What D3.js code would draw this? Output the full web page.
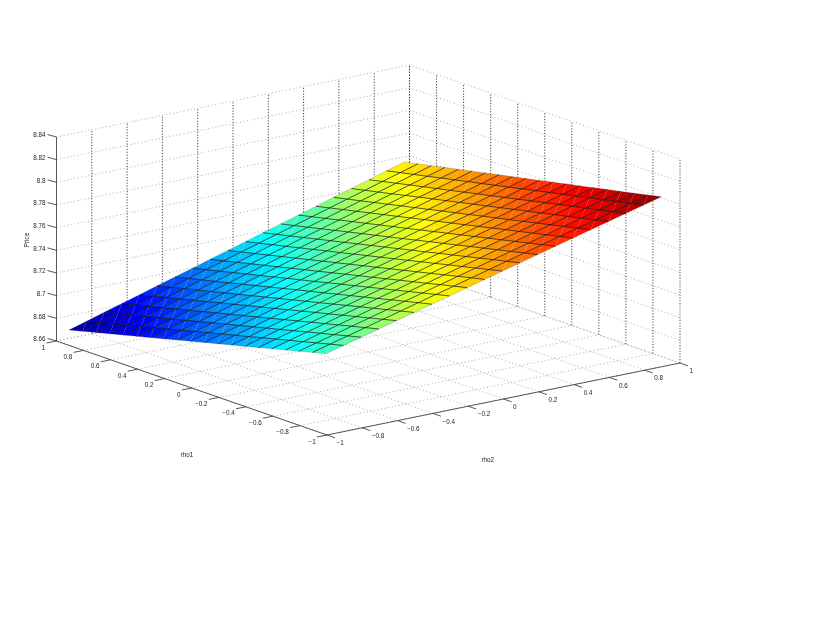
<!DOCTYPE html>
<html>
<head>
<meta charset="utf-8">
<script src="https://cdn.jsdelivr.net/npm/d3@7"></script>
<style>
    html, body { margin: 0; padding: 0; background: #fff; }
    svg { display: block; filter: blur(0.45px); }
    text { font-family: "Liberation Sans", Arial, sans-serif; font-size: 6.3px; fill: #222; }
</style>
</head>
<body>
<svg id="chart" width="830" height="623"></svg>
<script>
// values
const rho1Values = [-0.94, -0.84, -0.74, -0.64, -0.54, -0.44, -0.34, -0.24, -0.14, -0.04, 0.06, 0.16, 0.26, 0.36, 0.46, 0.56, 0.66, 0.76, 0.86, 0.96];
const rho2Values = [-0.96, -0.86, -0.76, -0.66, -0.56, -0.46, -0.36, -0.26, -0.16, -0.06, 0.04, 0.14, 0.24, 0.34, 0.44, 0.54, 0.64, 0.74, 0.84, 0.94];

// one row per rho1, one column per rho2
const price = [
    [8.7280, 8.7321, 8.7362, 8.7403, 8.7444, 8.7485, 8.7526, 8.7567, 8.7608, 8.7649, 8.7691, 8.7732, 8.7773, 8.7814, 8.7855, 8.7896, 8.7937, 8.7978, 8.8019, 8.8060],
    [8.7250, 8.7291, 8.7332, 8.7373, 8.7415, 8.7456, 8.7498, 8.7539, 8.7580, 8.7622, 8.7663, 8.7704, 8.7746, 8.7787, 8.7828, 8.7870, 8.7911, 8.7952, 8.7993, 8.8035],
    [8.7219, 8.7261, 8.7302, 8.7344, 8.7385, 8.7427, 8.7469, 8.7510, 8.7552, 8.7593, 8.7635, 8.7677, 8.7718, 8.7760, 8.7801, 8.7843, 8.7884, 8.7926, 8.7968, 8.8009],
    [8.7188, 8.7230, 8.7272, 8.7314, 8.7356, 8.7398, 8.7440, 8.7482, 8.7523, 8.7565, 8.7607, 8.7649, 8.7691, 8.7733, 8.7775, 8.7817, 8.7858, 8.7900, 8.7942, 8.7984],
    [8.7158, 8.7200, 8.7242, 8.7284, 8.7327, 8.7369, 8.7411, 8.7453, 8.7495, 8.7537, 8.7580, 8.7622, 8.7664, 8.7706, 8.7748, 8.7790, 8.7833, 8.7875, 8.7917, 8.7959],
    [8.7127, 8.7170, 8.7212, 8.7255, 8.7297, 8.7340, 8.7382, 8.7424, 8.7467, 8.7509, 8.7552, 8.7594, 8.7637, 8.7679, 8.7722, 8.7764, 8.7806, 8.7849, 8.7891, 8.7934],
    [8.7097, 8.7140, 8.7182, 8.7225, 8.7268, 8.7310, 8.7353, 8.7396, 8.7438, 8.7481, 8.7524, 8.7567, 8.7609, 8.7652, 8.7695, 8.7737, 8.7780, 8.7823, 8.7866, 8.7908],
    [8.7066, 8.7109, 8.7152, 8.7195, 8.7238, 8.7281, 8.7324, 8.7367, 8.7410, 8.7453, 8.7496, 8.7539, 8.7582, 8.7625, 8.7668, 8.7711, 8.7754, 8.7797, 8.7840, 8.7883],
    [8.7036, 8.7079, 8.7122, 8.7166, 8.7209, 8.7252, 8.7295, 8.7339, 8.7382, 8.7425, 8.7468, 8.7512, 8.7555, 8.7598, 8.7641, 8.7685, 8.7728, 8.7771, 8.7815, 8.7858],
    [8.7005, 8.7049, 8.7092, 8.7136, 8.7179, 8.7223, 8.7267, 8.7310, 8.7354, 8.7397, 8.7441, 8.7484, 8.7528, 8.7571, 8.7615, 8.7658, 8.7702, 8.7745, 8.7789, 8.7832],
    [8.6975, 8.7019, 8.7062, 8.7106, 8.7150, 8.7194, 8.7238, 8.7281, 8.7325, 8.7369, 8.7413, 8.7457, 8.7500, 8.7544, 8.7588, 8.7632, 8.7676, 8.7719, 8.7763, 8.7807],
    [8.6944, 8.6988, 8.7032, 8.7076, 8.7121, 8.7165, 8.7209, 8.7253, 8.7297, 8.7341, 8.7385, 8.7429, 8.7473, 8.7517, 8.7562, 8.7606, 8.7650, 8.7694, 8.7738, 8.7782],
    [8.6914, 8.6958, 8.7002, 8.7047, 8.7091, 8.7135, 8.7180, 8.7224, 8.7269, 8.7313, 8.7357, 8.7402, 8.7446, 8.7491, 8.7535, 8.7579, 8.7624, 8.7668, 8.7712, 8.7757],
    [8.6883, 8.6928, 8.6972, 8.7017, 8.7062, 8.7106, 8.7151, 8.7196, 8.7240, 8.7285, 8.7330, 8.7374, 8.7419, 8.7464, 8.7508, 8.7553, 8.7598, 8.7642, 8.7687, 8.7732],
    [8.6853, 8.6898, 8.6942, 8.6987, 8.7032, 8.7077, 8.7122, 8.7167, 8.7212, 8.7257, 8.7302, 8.7347, 8.7392, 8.7437, 8.7482, 8.7527, 8.7572, 8.7616, 8.7661, 8.7706],
    [8.6822, 8.6867, 8.6912, 8.6958, 8.7003, 8.7048, 8.7093, 8.7139, 8.7184, 8.7229, 8.7274, 8.7319, 8.7365, 8.7410, 8.7455, 8.7500, 8.7546, 8.7591, 8.7636, 8.7681],
    [8.6792, 8.6837, 8.6882, 8.6928, 8.6973, 8.7019, 8.7064, 8.7110, 8.7155, 8.7201, 8.7246, 8.7292, 8.7337, 8.7383, 8.7428, 8.7474, 8.7519, 8.7565, 8.7610, 8.7656],
    [8.6761, 8.6807, 8.6853, 8.6898, 8.6944, 8.6990, 8.7036, 8.7081, 8.7127, 8.7173, 8.7219, 8.7264, 8.7310, 8.7356, 8.7402, 8.7447, 8.7493, 8.7539, 8.7585, 8.7630],
    [8.6731, 8.6777, 8.6823, 8.6869, 8.6915, 8.6961, 8.7007, 8.7053, 8.7099, 8.7145, 8.7191, 8.7237, 8.7283, 8.7329, 8.7375, 8.7421, 8.7467, 8.7513, 8.7559, 8.7605],
    [8.6700, 8.6746, 8.6793, 8.6839, 8.6885, 8.6932, 8.6978, 8.7024, 8.7071, 8.7117, 8.7163, 8.7210, 8.7256, 8.7302, 8.7348, 8.7395, 8.7441, 8.7487, 8.7534, 8.7580]
];

const rhoTicks = [-1, -0.8, -0.6, -0.4, -0.2, 0, 0.2, 0.4, 0.6, 0.8, 1];
const priceTicks = [8.66, 8.68, 8.7, 8.72, 8.74, 8.76, 8.78, 8.8, 8.82, 8.84];

// the box is an oblique view: each data axis adds its own shift on screen
const front = { x: 327, y: 435 };
const rho1X = d3.scaleLinear().domain([-1, 1]).range([0, -270.5]);
const rho1Y = d3.scaleLinear().domain([-1, 1]).range([0, -94]);
const rho2X = d3.scaleLinear().domain([-1, 1]).range([0, 353]);
const rho2Y = d3.scaleLinear().domain([-1, 1]).range([0, -72]);
const priceY = d3.scaleLinear().domain([8.66, 8.84]).range([0, 204]);

const px = (r1, r2) => front.x + rho1X(r1) + rho2X(r2);
const py = (r1, r2, p) => front.y + rho1Y(r1) + rho2Y(r2) - priceY(p);

const allPrices = price.flat();
const t = d3.scaleLinear().domain(d3.extent(allPrices)).range([0, 1]);
const jet = d3.scaleLinear()
    .domain([0, 0.125, 0.375, 0.625, 0.875, 1])
    .range(["#00008f", "#0000ff", "#00ffff", "#ffff00", "#ff0000", "#800000"]);

const svg = d3.select("#chart");
const line3d = d3.line();

const floor = 8.66, top_ = 8.84;

// gridlines, the flat ones are paler than the uprights
const flatSegs = [];
const upSegs = [];
rhoTicks.forEach(v => {
    flatSegs.push([[px(v, -1), py(v, -1, floor)], [px(v, 1), py(v, 1, floor)]]);
    flatSegs.push([[px(-1, v), py(-1, v, floor)], [px(1, v), py(1, v, floor)]]);
    if (v > -1) upSegs.push([[px(1, v), py(1, v, floor)], [px(1, v), py(1, v, top_)]]);
    upSegs.push([[px(v, 1), py(v, 1, floor)], [px(v, 1), py(v, 1, top_)]]);
});
priceTicks.forEach(p => {
    flatSegs.push([[px(1, -1), py(1, -1, p)], [px(1, 1), py(1, 1, p)]]);
    flatSegs.push([[px(1, 1), py(1, 1, p)], [px(-1, 1), py(-1, 1, p)]]);
});
svg.append("g")
    .attr("fill", "none")
    .attr("stroke", "#a2a2a2")
    .attr("stroke-width", 0.9)
    .attr("stroke-dasharray", "1 2.6")
    .selectAll("path").data(flatSegs).enter().append("path").attr("d", line3d);
svg.append("g")
    .attr("fill", "none")
    .attr("stroke", "#333")
    .attr("stroke-width", 0.9)
    .attr("stroke-dasharray", "1.2 1.6")
    .selectAll("path").data(upSegs).enter().append("path").attr("d", line3d);

// surface: two triangles per cell, flat colour per cell
const surface = svg.append("g");
const vertex = (i, j) => [px(rho1Values[i], rho2Values[j]), py(rho1Values[i], rho2Values[j], price[i][j])];
const triangles = [];
d3.range(rho1Values.length - 1).forEach(i => {
    d3.range(rho2Values.length - 1).forEach(j => {
        const mean = d3.mean([price[i][j], price[i + 1][j], price[i][j + 1], price[i + 1][j + 1]]);
        triangles.push({ pts: [vertex(i, j), vertex(i, j + 1), vertex(i + 1, j + 1)], mean });
        triangles.push({ pts: [vertex(i, j), vertex(i + 1, j + 1), vertex(i + 1, j)], mean });
    });
});
surface.selectAll("path.tri").data(triangles).enter().append("path")
    .attr("class", "tri")
    .attr("d", d => line3d(d.pts) + "Z")
    .attr("fill", d => jet(t(d.mean)));

// the rim of the surface is much fainter than the inner mesh
const last = rho1Values.length - 1;
const meshLines = [];
rho1Values.forEach((_, i) => meshLines.push({ pts: rho2Values.map((_, j) => vertex(i, j)), rim: i === 0 || i === last }));
rho2Values.forEach((_, j) => meshLines.push({ pts: rho1Values.map((_, i) => vertex(i, j)), rim: j === 0 || j === last }));
surface.selectAll("path.mesh").data(meshLines).enter().append("path")
    .attr("class", "mesh")
    .attr("d", d => line3d(d.pts))
    .attr("fill", "none")
    .attr("stroke", "#000")
    .attr("stroke-opacity", d => d.rim ? 0.25 : 1)
    .attr("stroke-width", 0.65);

// axes
const axes = svg.append("g").attr("stroke", "#444").attr("stroke-width", 0.9).attr("fill", "none");
const axisSegs = [
    [[px(1, -1), py(1, -1, floor)], [px(1, -1), py(1, -1, top_)]],
    [[px(1, -1), py(1, -1, floor)], [px(-1, -1), py(-1, -1, floor)]],
    [[px(-1, -1), py(-1, -1, floor)], [px(-1, 1), py(-1, 1, floor)]]
];
rhoTicks.forEach(v => {
    const a = [px(v, -1), py(v, -1, floor)];
    axisSegs.push([a, [a[0] - 10, a[1] + 2]]);
    const b = [px(-1, v), py(-1, v, floor)];
    axisSegs.push([b, [b[0] + 8, b[1] + 2.8]]);
});
priceTicks.forEach(p => {
    const a = [px(1, -1), py(1, -1, p)];
    axisSegs.push([a, [a[0] - 9, a[1] - 2.5]]);
});
axes.selectAll("path").data(axisSegs).enter().append("path").attr("d", line3d);

// tick labels
const fmt = v => (v < 0 ? "\u2212" : "") + Math.abs(v);
svg.append("g").selectAll("text").data(rhoTicks).enter().append("text")
    .attr("x", d => px(d, -1) - 11.2)
    .attr("y", d => py(d, -1, floor) + 8.6)
    .attr("text-anchor", "end")
    .text(fmt);
svg.append("g").selectAll("text").data(rhoTicks).enter().append("text")
    .attr("x", d => px(-1, d) + 9.6)
    .attr("y", d => py(-1, d, floor) + 10.1)
    .text(fmt);
svg.append("g").selectAll("text").data(priceTicks).enter().append("text")
    .attr("x", px(1, -1) - 11)
    .attr("y", d => py(1, -1, d) + 0.2)
    .attr("text-anchor", "end")
    .text(d => d);

// axis labels
svg.append("text").attr("x", 187).attr("y", 456.5).attr("text-anchor", "middle").text("rho1");
svg.append("text").attr("x", 487.7).attr("y", 462).attr("text-anchor", "middle").text("rho2");
svg.append("text").attr("transform", "translate(29,240) rotate(-90)").attr("text-anchor", "middle").text("Price");
</script>
</body>
</html>
